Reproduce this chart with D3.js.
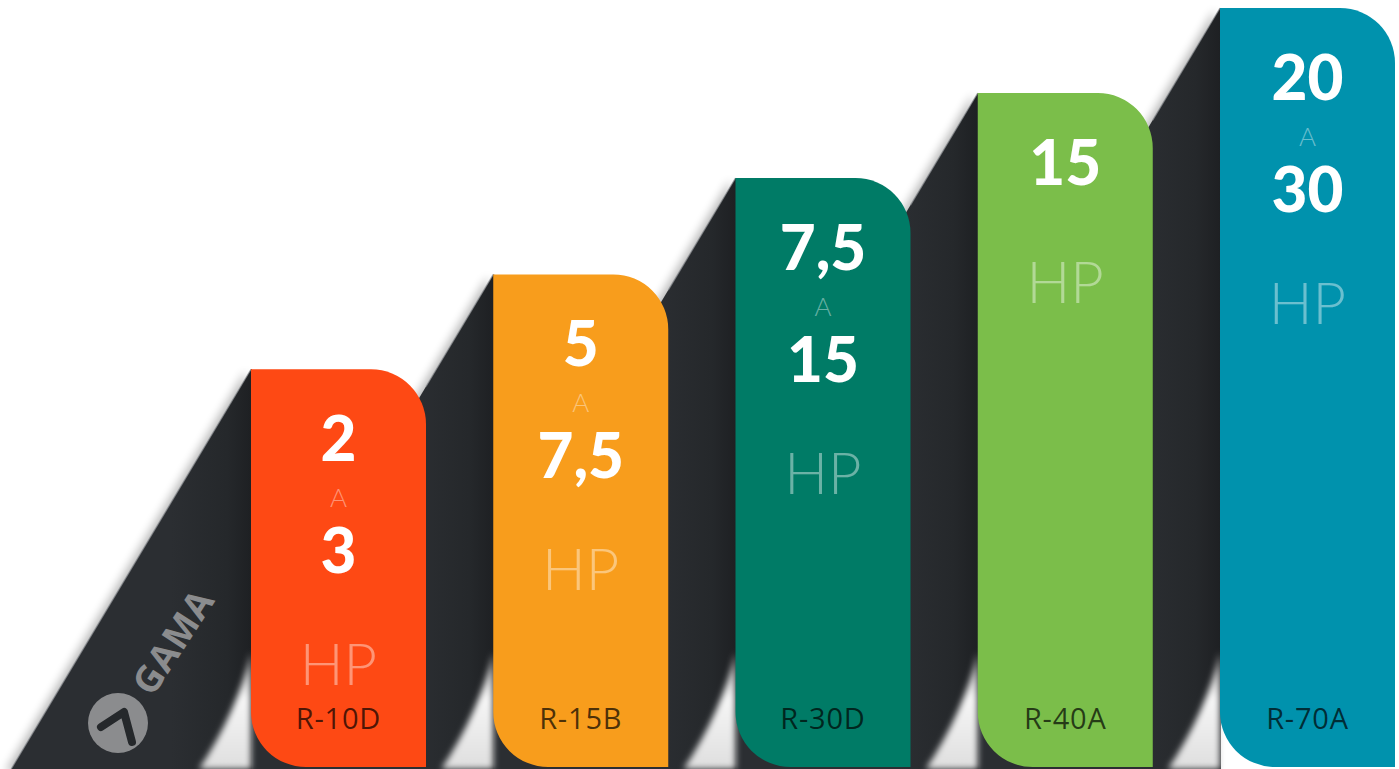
<!DOCTYPE html>
<html>
<head>
<meta charset="utf-8">
<script src="https://cdn.jsdelivr.net/npm/d3@7"></script>
<style>
  html, body { margin: 0; padding: 0; background: #ffffff; }
  svg { display: block; }
</style>
</head>
<body>
<script>
// ---- data ----
const models   = ["R-10D", "R-15B", "R-30D", "R-40A", "R-70A"];
const hpFrom   = ["2", "5", "7,5", "15", "20"];
const hpTo     = ["3", "7,5", "15", "", "30"];
const stepLevel = [52.4, 64.9, 77.6, 88.8, 100];   // relative height of each step
const barColors = ["#FE4914", "#F89D1C", "#007B66", "#7BBE4A", "#0092AD"];
const connector = "A";
const unit = "HP";
const brand = "GAMA";

const W = 1399, H = 769;
const svg = d3.select("body").append("svg").attr("width", W).attr("height", H);
const defs = svg.append("defs");

const x = d3.scaleBand().domain(models).range([251, 1395]).paddingInner(0.2776).paddingOuter(0);
const y = d3.scaleLinear().domain([0, 100]).range([767, 8]);
const bottom = y(0);
const slope = 0.6;   // horizontal run per vertical px of the side faces
const R = 55;

const numFont = "Lato, 'Open Sans', sans-serif";
const font = "'Open Sans', Lato, sans-serif";

// filters / gradients
const blur = defs.append("filter").attr("id", "blur").attr("x", "-20%").attr("y", "-20%").attr("width", "140%").attr("height", "140%");
blur.append("feGaussianBlur").attr("stdDeviation", 5);
const blur2 = defs.append("filter").attr("id", "blur2").attr("x", "-50%").attr("y", "-50%").attr("width", "200%").attr("height", "200%");
blur2.append("feGaussianBlur").attr("stdDeviation", 3);

const wedgeGrad = defs.append("linearGradient").attr("id", "wedge").attr("x1", 0).attr("y1", 0).attr("x2", 0).attr("y2", 1);
wedgeGrad.append("stop").attr("offset", "0%").attr("stop-color", "#a4a4a4");
wedgeGrad.append("stop").attr("offset", "40%").attr("stop-color", "#f6f6f6");
wedgeGrad.append("stop").attr("offset", "100%").attr("stop-color", "#dedede");

const data = models.map((m, i) => ({
  model: m, from: hpFrom[i], to: hpTo[i], level: stepLevel[i], color: barColors[i], i
}));

data.forEach(d => {
  const g = defs.append("linearGradient").attr("id", "side" + d.i)
    .attr("gradientUnits", "userSpaceOnUse")
    .attr("x1", x(d.model) - 80).attr("y1", 0).attr("x2", x(d.model)).attr("y2", 0);
  g.append("stop").attr("offset", "0%").attr("stop-color", "#2b2e32");
  g.append("stop").attr("offset", "70%").attr("stop-color", "#25282b");
  g.append("stop").attr("offset", "100%").attr("stop-color", "#1e2023");
});

// side faces, drawn right to left
const sidePath = d => {
  const L = x(d.model) + 1, T = y(d.level);
  return `M${L},${T} L${L},${H} L${L - 1 - slope * (H - T)},${H} L${L - 1},${T} Z`;
};
const order = data.slice().reverse();

const sides = svg.append("g");
order.forEach(d => {
  const L = x(d.model), T = y(d.level);
  let yEnd = H;
  if (d.i > 0) {
    const prevRight = x(models[d.i - 1]) + x.bandwidth();
    yEnd = Math.min(H, T + (L - prevRight) / slope);
  }
  sides.append("path").attr("d", sidePath(d))
    .attr("transform", "translate(-6,3)")
    .attr("fill", "#000").attr("opacity", 0.28).attr("filter", "url(#blur)");
  sides.append("path").attr("d", sidePath(d)).attr("fill", `url(#side${d.i})`);
  sides.append("line")
    .attr("x1", L).attr("y1", T).attr("x2", L - slope * (yEnd - T)).attr("y2", yEnd)
    .attr("stroke", "#8d9094").attr("stroke-width", 1.3).attr("opacity", 0.7);
  sides.append("path")
    .attr("d", `M${L},${bottom - 115} Q${L - 14},${bottom - 55} ${L - 52},${H} L${L},${H} Z`)
    .attr("fill", "url(#wedge)").attr("filter", "url(#blur2)");
});

// bars
const barPath = d => {
  const L = x(d.model), Rr = L + x.bandwidth(), T = y(d.level), B = bottom;
  return `M${L},${T} L${Rr - R},${T} A${R},${R} 0 0 1 ${Rr},${T + R} L${Rr},${B} L${L + R},${B} A${R},${R} 0 0 1 ${L},${B - R} Z`;
};

const bars = svg.append("g").selectAll("g.bar").data(data).join("g").attr("class", "bar");
bars.append("path").attr("d", barPath).attr("fill", d => d.color);

const cx = d => x(d.model) + x.bandwidth() / 2;

bars.append("text")
  .attr("x", cx).attr("y", d => y(d.level) + 92)
  .attr("text-anchor", "middle").attr("font-family", numFont).attr("font-weight", 900)
  .attr("font-size", 62).attr("fill", "#ffffff")
  .text(d => d.from);

bars.filter(d => d.to !== "").append("text")
  .attr("x", cx).attr("y", d => y(d.level) + 138)
  .attr("text-anchor", "middle").attr("font-family", numFont).attr("font-weight", 300)
  .attr("font-size", 26).attr("fill", "#ffffff").attr("fill-opacity", 0.42)
  .text(connector);

bars.filter(d => d.to !== "").append("text")
  .attr("x", cx).attr("y", d => y(d.level) + 204)
  .attr("text-anchor", "middle").attr("font-family", numFont).attr("font-weight", 900)
  .attr("font-size", 62).attr("fill", "#ffffff")
  .text(d => d.to);

bars.append("text")
  .attr("x", cx).attr("y", d => y(d.level) + (d.to !== "" ? 316 : 210))
  .attr("text-anchor", "middle").attr("font-family", numFont).attr("font-weight", 300)
  .attr("font-size", 58).attr("fill", "#ffffff").attr("fill-opacity", 0.42)
  .text(unit);

bars.append("text")
  .attr("x", cx).attr("y", 729)
  .attr("text-anchor", "middle").attr("font-family", font).attr("font-weight", 400)
  .attr("font-size", 29).attr("letter-spacing", 0.8).attr("fill", "#000000").attr("fill-opacity", 0.7)
  .text(d => d.model);

// brand logo on the first side face
const logo = svg.append("g");
logo.append("circle").attr("cx", 118).attr("cy", 723).attr("r", 30).attr("fill", "#8b8c8e");
logo.append("path").attr("d", "M101,727 L124,712 L132,742")
  .attr("fill", "none").attr("stroke", "#25282b").attr("stroke-width", 8)
  .attr("stroke-linecap", "round").attr("stroke-linejoin", "round");
logo.append("text")
  .attr("transform", "translate(172,641) rotate(-57)")
  .attr("text-anchor", "middle").attr("dominant-baseline", "central")
  .attr("font-family", font).attr("font-weight", 700).attr("font-size", 37)
  .attr("letter-spacing", 1).attr("fill", "#8b8c8e")
  .text(brand);
</script>
</body>
</html>
